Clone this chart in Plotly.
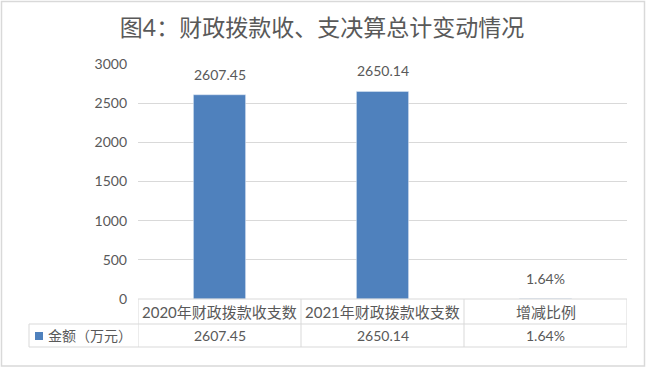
import plotly.graph_objects as go

categories = ["2020年财政拨款收支数", "2021年财政拨款收支数", "增减比例"]
values = [2607.45, 2650.14, 1.64]
value_labels = ["2607.45", "2650.14", "1.64%"]
series_name = "金额（万元）"
title_text = "图4：财政拨款收、支决算总计变动情况"
y_ticks = [0, 500, 1000, 1500, 2000, 2500, 3000]

BAR = "#4f81bd"
TXT = "#595959"
GRID = "#d9d9d9"
FONT = "Lato, 'Noto Sans CJK SC', sans-serif"

W, H = 646, 368
L, R, T, B = 138, 19, 64, 69
PW, PH = W - L - R, H - T - B


def px_x(px):
    return (px - L) / PW


def px_y(py):
    return (H - B - py) / PH


idx = list(range(len(categories)))

fig = go.Figure()
fig.add_trace(go.Bar(x=idx, y=values, marker_color=BAR, name=series_name,
                     showlegend=False, hoverinfo="skip"))

ann = []
shapes = []
# data labels above bars
for i, v, lab in zip(idx, values, value_labels):
    ann.append(dict(x=i, y=v, xref="x", yref="y", text=lab, showarrow=False,
                    yanchor="bottom", yshift=10,
                    font=dict(size=14, color=TXT, family=FONT)))

row1_top, row1_bot, row2_bot = px_y(299), px_y(324), px_y(347)
# table: category row and value row
for i, c, lab in zip(idx, categories, value_labels):
    ann.append(dict(x=i, y=(row1_top + row1_bot) / 2, xref="x", yref="paper",
                    text=c, showarrow=False, yanchor="middle",
                    font=dict(size=15, color=TXT, family=FONT)))
    ann.append(dict(x=i, y=(row1_bot + row2_bot) / 2, xref="x", yref="paper",
                    text=lab, showarrow=False, yanchor="middle",
                    font=dict(size=14, color=TXT, family=FONT)))
    # vertical borders
    shapes.append(dict(type="line", xref="x", yref="paper", x0=i + 0.5, x1=i + 0.5,
                       y0=row2_bot, y1=row1_top, line=dict(color=GRID, width=1)))
shapes.append(dict(type="line", xref="x", yref="paper", x0=-0.5, x1=-0.5,
                   y0=row2_bot, y1=row1_top, line=dict(color=GRID, width=1)))
# horizontal borders
shapes.append(dict(type="line", xref="x", yref="paper", x0=-0.5, x1=len(idx) - 0.5,
                   y0=row1_top, y1=row1_top, line=dict(color=GRID, width=1)))
shapes.append(dict(type="line", xref="paper", yref="paper", x0=px_x(29), x1=1,
                   y0=row1_bot, y1=row1_bot, line=dict(color=GRID, width=1)))
shapes.append(dict(type="line", xref="paper", yref="paper", x0=px_x(29), x1=1,
                   y0=row2_bot, y1=row2_bot, line=dict(color=GRID, width=1)))
shapes.append(dict(type="line", xref="paper", yref="paper", x0=px_x(29), x1=px_x(29),
                   y0=row2_bot, y1=row1_bot, line=dict(color=GRID, width=1)))
# legend key
shapes.append(dict(type="rect", xref="paper", yref="paper", x0=px_x(35), x1=px_x(43),
                   y0=px_y(340), y1=px_y(332), fillcolor=BAR, line=dict(width=0)))
ann.append(dict(x=px_x(46), y=(row1_bot + row2_bot) / 2, xref="paper", yref="paper",
                text=series_name, showarrow=False, xanchor="left", yanchor="middle",
                font=dict(size=14, color=TXT, family=FONT)))
# outer chart border
shapes.append(dict(type="rect", xref="paper", yref="paper", x0=px_x(1.5), x1=px_x(644.5),
                   y0=px_y(366), y1=px_y(1.5), line=dict(color=GRID, width=1.5),
                   fillcolor="rgba(0,0,0,0)", layer="below"))

fig.update_layout(
    width=W, height=H,
    margin=dict(l=L, r=R, t=T, b=B, pad=0),
    paper_bgcolor="white", plot_bgcolor="white",
    title=dict(text=title_text, x=322 / W, xanchor="center", y=1 - 28 / H,
               yanchor="middle", xref="container", yref="container",
               font=dict(size=23, color=TXT, family=FONT)),
    bargap=0.68,
    xaxis=dict(range=[-0.5, len(idx) - 0.5], showticklabels=False, showgrid=False,
               zeroline=False, showline=False, fixedrange=True),
    yaxis=dict(range=[0, 3000], tickvals=y_ticks, showgrid=True, gridcolor=GRID,
               gridwidth=1, zeroline=False, showline=False, ticks="",
               ticklabelstandoff=10,
               tickfont=dict(size=14, color=TXT, family=FONT), fixedrange=True),
    annotations=ann, shapes=shapes, showlegend=False,
)

fig.write_html("out.html", config={"displayModeBar": False, "staticPlot": True},
               post_script="document.body.style.margin='0';document.body.style.padding='0';document.body.style.overflow='hidden';")
